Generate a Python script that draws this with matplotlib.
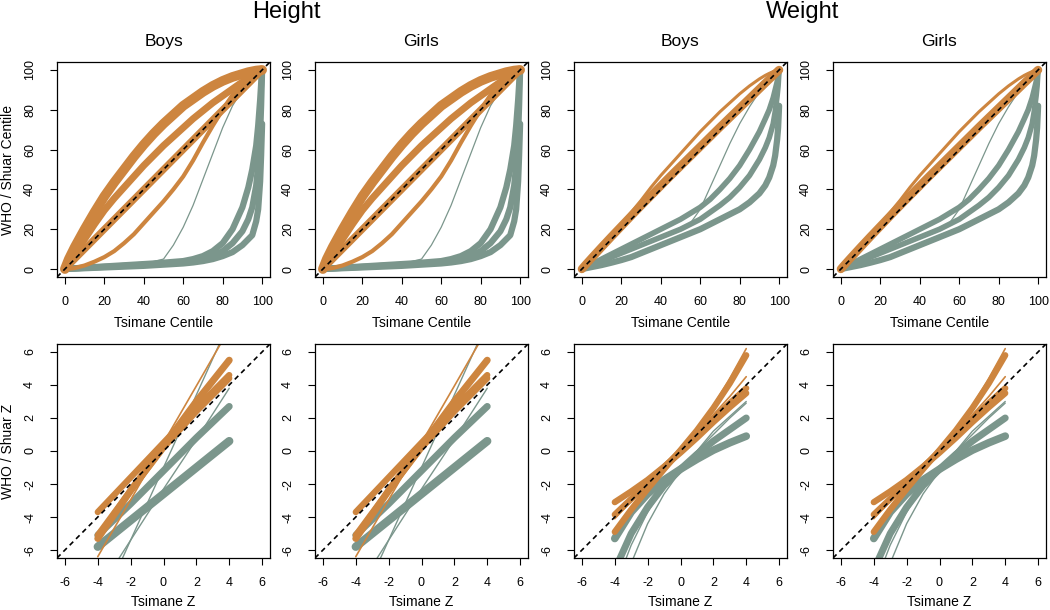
import matplotlib
matplotlib.use('Agg')
import matplotlib.pyplot as plt

plt.rcParams['font.family'] = ['Liberation Sans', 'DejaVu Sans']
plt.rcParams['axes.unicode_minus'] = False

# ---------------- data ----------------
measures = ['Height', 'Weight']
sexes = ['Boys', 'Girls']

cent_x = [0, 2, 5, 10, 15, 20, 25, 30, 35, 40, 45, 50, 55, 60, 65, 70, 75, 80, 85, 90,
          93, 95, 97, 98, 99, 99.5, 100]
cent_ticks = [0, 20, 40, 60, 80, 100]

# Height, centile scale
h_or_upper  = [0, 5, 11, 20, 28.5, 36.5, 43.5, 50, 56.5, 62.5, 68, 73, 77.5, 82, 85.5, 89, 92, 94.5,
               96.5, 98, 98.9, 99.3, 99.7, 99.8, 99.9, 100, 100]
h_or_middle = [0, 3, 7.5, 15, 22.5, 29.5, 35.5, 41, 46.5, 52, 57, 62, 66.5, 71, 75.5, 79.5, 83.5, 87,
               90.5, 94, 96, 97.3, 98.6, 99.2, 99.7, 99.9, 100]
h_or_diag   = [0, 2, 5, 10, 15, 20, 25, 30, 35, 40, 45, 50, 55, 60, 65, 70, 75, 80, 85, 90,
               93, 95, 97, 98, 99, 99.5, 100]
h_or_lower  = [0, 0.1, 0.5, 1.8, 3.7, 6, 9, 13, 17.5, 23, 28.5, 34, 40, 46.5, 54.5, 63.5, 72, 80,
               87.5, 94, 96.5, 98, 99, 99.5, 99.8, 99.9, 100]
h_gr_thin   = [0, 0.1, 0.3, 0.6, 0.9, 1.2, 1.6, 2, 2.5, 3, 3.8, 5, 12, 21, 32, 45, 58, 71,
               82, 90, 94, 96, 98, 99, 99.6, 99.8, 100]
h_gr_upper  = [0, 0.2, 0.4, 0.7, 1, 1.3, 1.6, 1.9, 2.2, 2.5, 2.8, 3.2, 3.6, 4, 5, 6.5, 9, 13,
               20, 31, 41, 50, 62, 72, 85, 93, 100]
h_gr_middle = [0, 0.2, 0.3, 0.6, 0.8, 1.1, 1.3, 1.6, 1.9, 2.1, 2.4, 2.7, 3, 3.3, 4, 5, 6.5, 9,
               13, 19, 25, 31, 42, 52, 68, 82, 100]
h_gr_lower  = [0, 0.1, 0.2, 0.4, 0.6, 0.8, 1, 1.2, 1.4, 1.6, 1.9, 2.2, 2.5, 2.8, 3.3, 4, 5, 6.5,
               8.5, 12, 15, 17, 24, 30, 44, 57, 73]

# Weight, centile scale
w_or_diag   = [0, 2.3, 5.6, 11, 16.3, 21.5, 26.7, 31.8, 36.8, 41.8, 46.8, 51.7, 56.6, 61.5, 66.4,
               71.3, 76.1, 80.9, 85.7, 90.5, 93.4, 95.3, 97.2, 98.2, 99.1, 99.6, 100]
w_or_upper  = [0, 2.2, 5.3, 11, 16.5, 22.5, 28.5, 34.5, 41, 47, 52.5, 58, 63.5, 69, 74, 79, 83.5,
               88, 92, 95.5, 97.3, 98.3, 99.2, 99.5, 99.8, 99.9, 100]
w_gr_thin   = [0, 0.7, 1.8, 3.5, 5.5, 7.5, 9.5, 11.5, 13.5, 15.5, 17.5, 20, 23, 30, 41, 52, 63,
               73, 81.5, 89, 93, 95, 97.5, 98.5, 99.3, 99.7, 100]
w_gr_upper  = [0, 1, 2.5, 5, 7.5, 10, 12.5, 15, 17.5, 20, 22.5, 25, 28, 31, 35, 40, 45.5, 52,
               60, 69, 75.5, 80, 86, 90, 94, 97, 100]
w_gr_middle = [0, 0.8, 2, 4, 6, 8, 10, 12, 14, 16, 18, 20, 22.5, 25, 28.5, 32, 36, 41,
               47, 55, 61, 66, 73, 79, 87, 92, 100]
w_gr_lower  = [0, 0.4, 1, 2, 3.2, 4.5, 6, 8, 10, 12, 14, 16, 18, 20, 22.5, 25, 27.5, 30,
               33.5, 38, 42, 46, 52, 57, 65, 71, 82]

z_ticks = [-6, -4, -2, 0, 2, 4, 6]

# Height, Z scale
hz_x = [-4, -2, 0, 2, 4]
hz_or_a     = [-3.7, -1.6, 0.5, 2.6, 4.6]
hz_or_b     = [-5.3, -2.4, 0.3, 3.0, 5.5]
hz_or_b2    = [-5.1, -2.4, 0.2, 2.4, 4.4]
hz_or_thin  = [-6.4, -2.96, 0.5, 3.94, 7.4]
hz_gr_a     = [-5.8, -4.2, -2.6, -1.0, 0.6]
hz_gr_b     = [-5.1, -3.2, -1.2, 0.8, 2.7]
hz_gr_thin1 = [-8.5, -5.4, -2.3, 0.7, 3.8]
hz_gr_thin2 = [-9.8, -5.4, -1.0, 3.4, 7.8]

# Weight, Z scale
wz_x = [-4, -3, -2, -1, 0, 1, 2, 3, 4]
wz_or_a     = [-3.1, -2.45, -1.75, -0.95, -0.1, 0.8, 1.75, 2.65, 3.5]
wz_or_b     = [-3.85, -2.9, -1.95, -0.98, 0.0, 0.98, 1.95, 2.9, 3.8]
wz_or_c     = [-4.9, -3.55, -2.3, -1.1, 0.05, 1.25, 2.6, 4.1, 5.8]
wz_or_thin  = [-4.95, -3.6, -2.35, -1.15, 0.05, 1.3, 2.75, 4.4, 6.2]
wz_or_thin2 = [-4.1, -3.05, -2.0, -1.0, 0.0, 1.05, 2.2, 3.3, 4.5]
wz_gr_a     = [-5.3, -3.7, -2.6, -1.75, -1.1, -0.5, 0.05, 0.5, 0.9]
wz_gr_b     = [-7.2, -5.0, -3.4, -2.1, -1.1, -0.2, 0.6, 1.3, 2.0]
wz_gr_thin1 = [-8.3, -5.7, -3.7, -2.2, -1.0, 0.0, 1.0, 2.0, 2.9]
wz_gr_thin2 = [-9.8, -6.8, -4.4, -2.6, -1.2, 0.0, 1.2, 2.1, 3.0]

# ---------------- styles ----------------
ORANGE = '#cd853f'
GREEN = '#7b968c'

top_curves = {
    'Height': [(h_gr_upper, GREEN, 4.5), (h_gr_middle, GREEN, 4.5), (h_gr_lower, GREEN, 4.5),
               (h_gr_thin, GREEN, 0.9),
               (h_or_lower, ORANGE, 3.0), (h_or_diag, ORANGE, 5.0),
               (h_or_middle, ORANGE, 5.0), (h_or_upper, ORANGE, 7.0)],
    'Weight': [(w_gr_upper, GREEN, 4.0), (w_gr_middle, GREEN, 4.0), (w_gr_lower, GREEN, 4.5),
               (w_gr_thin, GREEN, 0.9),
               (w_or_upper, ORANGE, 2.2), (w_or_diag, ORANGE, 6.0)],
}
bottom_curves = {
    'Height': (hz_x, [(hz_gr_a, GREEN, 6.0), (hz_gr_b, GREEN, 5.0),
                      (hz_gr_thin1, GREEN, 1.0), (hz_gr_thin2, GREEN, 1.0),
                      (hz_or_thin, ORANGE, 1.2), (hz_or_b2, ORANGE, 4.5),
                      (hz_or_b, ORANGE, 5.0), (hz_or_a, ORANGE, 4.5)]),
    'Weight': (wz_x, [(wz_gr_a, GREEN, 5.5), (wz_gr_b, GREEN, 5.0),
                      (wz_gr_thin1, GREEN, 1.0), (wz_gr_thin2, GREEN, 1.0),
                      (wz_or_thin, ORANGE, 1.2), (wz_or_thin2, ORANGE, 1.2),
                      (wz_or_c, ORANGE, 4.5), (wz_or_b, ORANGE, 4.5), (wz_or_a, ORANGE, 4.5)]),
}

W, H = 1050, 610
fig = plt.figure(figsize=(W / 100, H / 100), dpi=100)

lefts = [57, 315, 574, 833]
pw = 213


def style_axes(ax):
    for s in ax.spines.values():
        s.set_linewidth(0.9)
        s.set_color('black')
    ax.tick_params(direction='out', length=5, width=0.8, labelsize=9, colors='black')
    ax.tick_params(axis='x', pad=9)
    ax.tick_params(axis='y', labelrotation=90, pad=10)
    for lab in ax.get_yticklabels():
        lab.set_va('center')


def add_diag(ax):
    ax.axline((0, 0), (1, 1), color='black', lw=1.2, dashes=(3, 2.4), zorder=10)


col = 0
for m in measures:
    for s in sexes:
        left = lefts[col]
        # top: centile
        ax = fig.add_axes([left / W, 1 - 277 / H, pw / W, 215 / H])
        for y, c, lw in top_curves[m]:
            ax.plot(cent_x, y, color=c, lw=lw, solid_capstyle='round', solid_joinstyle='round')
        add_diag(ax)
        ax.set_xlim(-4, 104)
        ax.set_ylim(-4, 104)
        ax.set_xticks(cent_ticks)
        ax.set_yticks(cent_ticks)
        style_axes(ax)
        fig.text((left + pw / 2) / W, 1 - 327 / H, 'Tsimane Centile', ha='center', va='baseline', fontsize=10)
        fig.text((left + pw / 2) / W, 1 - 46 / H, s, ha='center', va='baseline', fontsize=12.5)

        # bottom: Z
        ax2 = fig.add_axes([left / W, 1 - 558 / H, pw / W, 214 / H])
        zx, curves = bottom_curves[m]
        for y, c, lw in curves:
            ax2.plot(zx, y, color=c, lw=lw, solid_capstyle='round', solid_joinstyle='round')
        add_diag(ax2)
        ax2.set_xlim(-6.48, 6.48)
        ax2.set_ylim(-6.48, 6.48)
        ax2.set_xticks(z_ticks)
        ax2.set_yticks(z_ticks)
        style_axes(ax2)
        fig.text((left + pw / 2) / W, 1 - 606 / H, 'Tsimane Z', ha='center', va='baseline', fontsize=10)
        col += 1

fig.text(286 / W, 1 - 18 / H, 'Height', ha='center', va='baseline', fontsize=17)
fig.text(803 / W, 1 - 18 / H, 'Weight', ha='center', va='baseline', fontsize=17)
fig.text(8 / W, 1 - 170 / H, 'WHO / Shuar Centile', rotation=90, ha='center', va='center', fontsize=10)
fig.text(8 / W, 1 - 451 / H, 'WHO / Shuar Z', rotation=90, ha='center', va='center', fontsize=10)

fig.savefig('out.png', dpi=100)
